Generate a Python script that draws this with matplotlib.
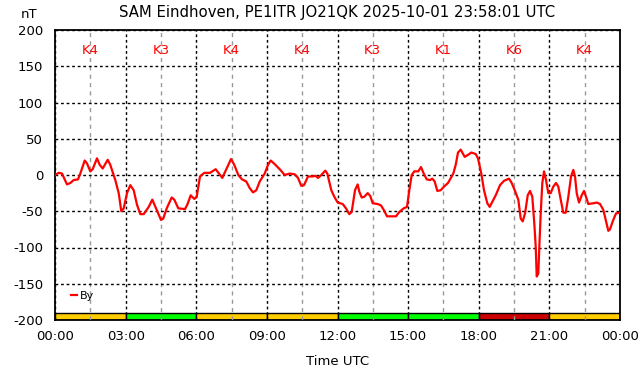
import numpy as np
import matplotlib.pyplot as plt
from matplotlib.ticker import MultipleLocator, FuncFormatter

plt.rcParams['axes.unicode_minus'] = False

# By trace, hours UTC and nT
hours = [0.0, 0.157, 0.297, 0.510, 0.650, 0.794, 0.977, 1.075, 1.262, 1.359,
         1.499, 1.601, 1.784, 1.899, 2.026, 2.239, 2.349, 2.561, 2.706, 2.816,
         2.918, 3.058, 3.199, 3.343, 3.483, 3.623, 3.768, 3.980, 4.133, 4.320,
         4.503, 4.600, 4.745, 4.957, 5.068, 5.237, 5.522, 5.620, 5.764, 5.917,
         6.019, 6.159, 6.342, 6.584, 6.826, 6.966, 7.107, 7.293, 7.476, 7.616,
         7.786, 7.943, 8.126, 8.270, 8.411, 8.551, 8.695, 8.908, 9.048, 9.162,
         9.332, 9.545, 9.757, 9.970, 10.182, 10.322, 10.462, 10.577, 10.747, 10.959,
         11.057, 11.172, 11.312, 11.482, 11.567, 11.737, 11.864, 12.008, 12.221, 12.361,
         12.501, 12.603, 12.743, 12.858, 12.926, 13.028, 13.138, 13.283, 13.393, 13.495,
         13.707, 13.848, 13.963, 14.102, 14.272, 14.485, 14.625, 14.812, 14.952, 15.050,
         15.152, 15.262, 15.432, 15.547, 15.662, 15.789, 15.929, 16.027, 16.129, 16.240,
         16.384, 16.524, 16.694, 16.919, 17.021, 17.119, 17.233, 17.403, 17.556, 17.683,
         17.870, 17.968, 18.108, 18.223, 18.363, 18.465, 18.576, 18.720, 18.903, 19.073,
         19.285, 19.400, 19.540, 19.680, 19.782, 19.867, 19.965, 20.080, 20.177, 20.275,
         20.360, 20.420, 20.462, 20.530, 20.573, 20.632, 20.700, 20.772, 20.857, 20.955,
         21.057, 21.167, 21.282, 21.380, 21.482, 21.592, 21.694, 21.805, 21.919, 22.017,
         22.089, 22.161, 22.259, 22.373, 22.471, 22.556, 22.654, 22.866, 23.011, 23.151,
         23.291, 23.406, 23.504, 23.575, 23.690, 23.830, 23.970]
by_nt = [0, 3, 2, -13, -11, -7, -6, 2, 20, 16,
         5, 8, 23, 14, 9, 21, 14, -7, -25, -50,
         -46, -25, -14, -21, -41, -54, -54, -44, -34, -48,
         -62, -60, -46, -31, -34, -46, -47, -41, -28, -33,
         -30, -2, 3, 3, 8, 2, -4, 9, 22, 14,
         0, -6, -9, -18, -24, -21, -9, 2, 14, 20,
         15, 8, 0, 2, 1, -4, -15, -14, -2, -2,
         -1, -4, 0, 6, 2, -21, -30, -38, -40, -46,
         -54, -51, -21, -13, -23, -31, -30, -25, -29, -39,
         -40, -42, -48, -57, -57, -57, -51, -46, -44, -21,
         0, 5, 5, 11, 2, -6, -7, -5, -9, -22,
         -21, -16, -11, 2, 14, 31, 35, 25, 28, 31,
         29, 23, 2, -21, -39, -44, -37, -28, -14, -8,
         -5, -11, -22, -34, -60, -64, -53, -28, -22, -30,
         -67, -99, -140, -136, -99, -53, -11, 5, -7, -25,
         -25, -16, -11, -16, -34, -52, -52, -30, -2, 7,
         -2, -25, -38, -28, -22, -30, -40, -39, -38, -40,
         -48, -64, -77, -75, -64, -53, -52]

# 3-hour K index blocks
k_start = [0, 3, 6, 9, 12, 15, 18, 21]
k_index = [4, 3, 4, 4, 3, 1, 6, 4]


def k_color(k):
    if k >= 5:
        return '#cc0000'
    if k >= 4:
        return '#ffcc00'
    return '#00ff00'


fig = plt.figure(figsize=(6.42, 3.76), dpi=100)
ax = fig.add_axes([55 / 642, 1 - 320 / 376, 565 / 642, 290 / 376])

ax.bar(k_start, [10] * len(k_start), width=3, bottom=-200, align='edge',
       color=[k_color(k) for k in k_index], edgecolor='black', linewidth=1, zorder=1)

for s, k in zip(k_start, k_index):
    ax.text(s + 1.5, 172, f'K{k}', color='red', fontsize=9.5, ha='center', va='center')

ax.plot(hours, by_nt, color='red', linewidth=1.6, label='By', zorder=4)

ax.set_xlim(0, 24)
ax.set_ylim(-200, 200)
ax.xaxis.set_major_locator(MultipleLocator(3))
ax.xaxis.set_minor_locator(MultipleLocator(1.5))
ax.yaxis.set_major_locator(MultipleLocator(50))
ax.xaxis.set_major_formatter(FuncFormatter(lambda v, p: f'{int(v) % 24:02d}:00'))

ax.grid(which='major', color='black', linestyle=(0, (2, 2)), linewidth=1, zorder=2)
ax.grid(which='minor', axis='x', color='#999999', linestyle=(0, (3, 3)), linewidth=1, zorder=2)
ax.set_axisbelow(False)
ax.tick_params(which='both', length=0, labelsize=9.5)
ax.tick_params(axis='x', pad=7.5)
ax.tick_params(axis='y', pad=8.6)
for sp in ax.spines.values():
    sp.set_linewidth(1.3)

ax.set_xlabel('Time UTC', fontsize=9.5, labelpad=8)
fig.text(29 / 642, 1 - 15 / 376, 'nT', fontsize=9.5, ha='center', va='center')
fig.text(337.5 / 642, 1 - 12 / 376, 'SAM Eindhoven, PE1ITR JO21QK 2025-10-01 23:58:01 UTC',
         fontsize=10.7, ha='center', va='center')

ax.legend(loc='lower left', bbox_to_anchor=(0.02, 0.05), frameon=False,
          handlelength=0.6, handletextpad=0.2, fontsize=8, borderaxespad=0)

fig.savefig('out.png', dpi=100)
